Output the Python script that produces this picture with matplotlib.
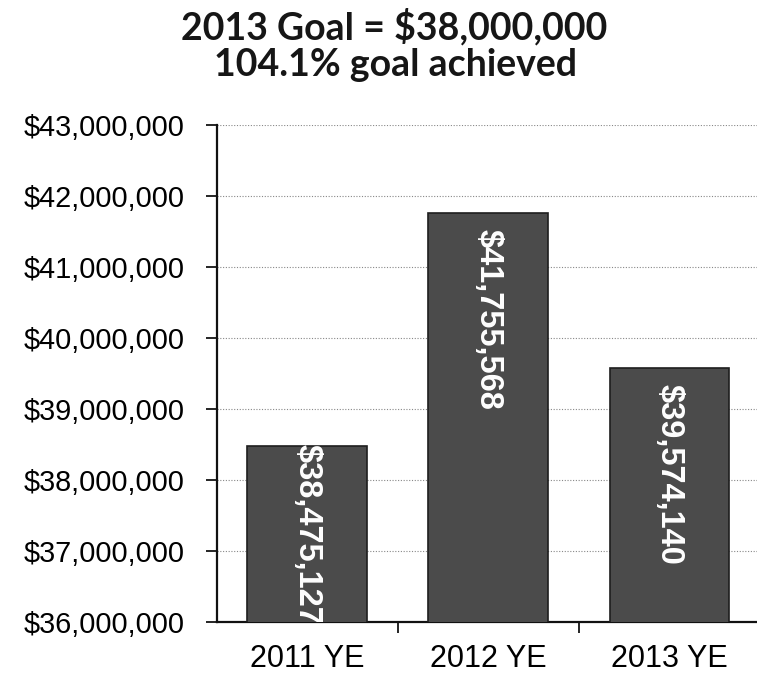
import matplotlib
matplotlib.use("Agg")
import matplotlib.pyplot as plt
import numpy as np

# Data
categories = ["2011 YE", "2012 YE", "2013 YE"]
totals = [38475127, 41755568, 39574140]
y_ticks = [36000000, 37000000, 38000000, 39000000, 40000000, 41000000, 42000000, 43000000]
title_line1 = "2013 Goal = $38,000,000"
title_line2 = "104.1% goal achieved"

W, H = 757, 675
fig = plt.figure(figsize=(W / 100, H / 100), dpi=100)
ax = fig.add_axes([216.5 / W, 1 - 622 / H, (W - 216.5) / W, (622 - 125) / H])

x = np.arange(len(categories))
ax.bar(x, totals, width=0.66, color="#4b4b4b", edgecolor="#1e1e1e", linewidth=1.2, zorder=3)

ax.set_ylim(y_ticks[0], y_ticks[-1])
ax.set_xlim(-0.5, 2.5 - 3 / 181)
ax.set_yticks(y_ticks)
ax.set_yticklabels([f"${v:,.0f}" for v in y_ticks], fontsize=20.8, family="Liberation Sans")
ax.yaxis.grid(True, linestyle=(0, (1, 1.5)), color="#888888", linewidth=0.8, zorder=0)

# category labels centred, tick marks between categories
ax.set_xticks(x)
ax.set_xticklabels(categories, fontsize=22, family="Liberation Sans")
ax.tick_params(axis="x", length=0, pad=16)
ax.set_xticks([0.5, 1.5], minor=True)
ax.tick_params(axis="x", which="minor", length=8, width=1.2, direction="out")
ax.tick_params(axis="y", length=8, width=1.2, direction="out", pad=15)

for side in ["top", "right"]:
    ax.spines[side].set_visible(False)
for side in ["left", "bottom"]:
    ax.spines[side].set_linewidth(1.6)
    ax.spines[side].set_color("#111111")

# Value labels inside bars, rotated; pushed up when the bar is too short
fig.canvas.draw()
renderer = fig.canvas.get_renderer()
px_per_unit = (622 - 125) / (y_ticks[-1] - y_ticks[0])
for xi, v in zip(x, totals):
    t = ax.text(xi, v, f"${v:,.0f}", rotation=-90, color="white", fontsize=23.5,
                fontweight="bold", family="Liberation Sans", ha="center", va="top",
                zorder=4, clip_on=True)
    length = t.get_window_extent(renderer).height
    top = v - 16 / px_per_unit
    lowest_top = y_ticks[0] + (length - 3) / px_per_unit
    t.set_y(max(top, lowest_top))

fig.text(394 / W, 1 - 39 / H, title_line1, ha="center", va="baseline",
         fontsize=27, fontweight="bold", family="Lato", color="#161616")
fig.text(395 / W, 1 - 76 / H, title_line2, ha="center", va="baseline",
         fontsize=27, fontweight="bold", family="Lato", color="#161616")

fig.savefig("out.png", dpi=100)
